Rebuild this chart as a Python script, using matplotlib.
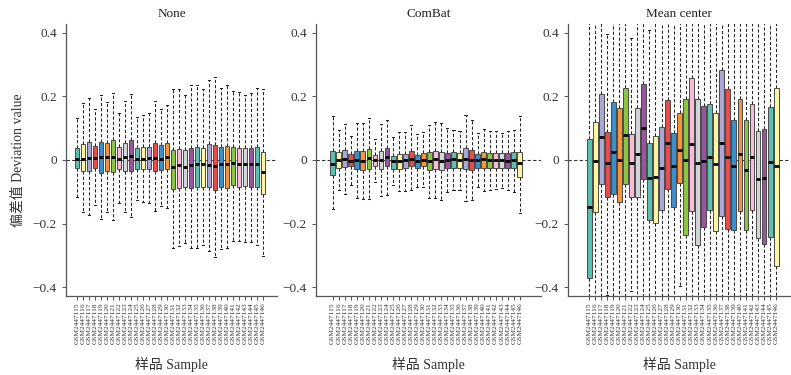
import numpy as np
import matplotlib
matplotlib.use("Agg")
from matplotlib import pyplot as plt

plt.rcParams['font.family'] = ['Liberation Serif', 'Noto Sans CJK SC', 'DejaVu Sans']

# ---- data ----
samples = ["GSM24471%02d" % i for i in range(15, 47)]
panel_titles = ["None", "ComBat", "Mean center"]

colours = ["#5cbfb2", "#fdf6a3", "#aaa6d6", "#ea4b4d", "#3d8fcb",
           "#f5953b", "#8cc541", "#f8bcd6", "#d4d5d8", "#9a559f"]

# None
none_whishi = [0.131, 0.180, 0.196, 0.159, 0.206, 0.183, 0.211, 0.149, 0.186, 0.209,
               0.134, 0.141, 0.149, 0.186, 0.162, 0.174, 0.225, 0.222, 0.206, 0.235,
               0.235, 0.225, 0.251, 0.262, 0.228, 0.235, 0.217, 0.215, 0.206, 0.212,
               0.228, 0.222]
none_q3 = [0.037, 0.049, 0.057, 0.045, 0.057, 0.052, 0.062, 0.042, 0.052, 0.063,
           0.037, 0.040, 0.042, 0.052, 0.047, 0.052, 0.033, 0.036, 0.031, 0.039,
           0.042, 0.038, 0.050, 0.047, 0.040, 0.044, 0.040, 0.037, 0.037, 0.037,
           0.040, 0.024]
none_med = [0.002, 0.002, 0.006, 0.006, 0.008, 0.008, 0.010, 0.004, 0.008, 0.013,
            0.002, 0.004, 0.006, 0.006, 0.002, 0.008, -0.021, -0.016, -0.023, -0.017,
            -0.013, -0.013, -0.015, -0.019, -0.014, -0.014, -0.010, -0.014, -0.014, -0.014,
            -0.013, -0.037]
none_q1 = [-0.026, -0.035, -0.035, -0.026, -0.040, -0.035, -0.038, -0.029, -0.035, -0.035,
           -0.029, -0.027, -0.029, -0.035, -0.031, -0.029, -0.091, -0.087, -0.086, -0.089,
           -0.086, -0.084, -0.086, -0.094, -0.086, -0.087, -0.080, -0.084, -0.082, -0.084,
           -0.084, -0.107]
none_whislo = [-0.117, -0.165, -0.172, -0.141, -0.185, -0.165, -0.188, -0.136, -0.165, -0.178,
               -0.126, -0.131, -0.134, -0.162, -0.146, -0.152, -0.277, -0.270, -0.262, -0.277,
               -0.277, -0.267, -0.285, -0.305, -0.280, -0.277, -0.256, -0.256, -0.259, -0.259,
               -0.267, -0.301]

# ComBat
combat_whishi = [0.139, 0.095, 0.114, 0.076, 0.116, 0.116, 0.131, 0.066, 0.114, 0.126,
                 0.072, 0.089, 0.087, 0.110, 0.082, 0.087, 0.111, 0.121, 0.115, 0.100,
                 0.093, 0.092, 0.142, 0.126, 0.085, 0.098, 0.092, 0.090, 0.085, 0.092,
                 0.095, 0.140]
combat_q3 = [0.027, 0.024, 0.030, 0.018, 0.027, 0.027, 0.036, 0.016, 0.029, 0.037,
             0.012, 0.019, 0.018, 0.029, 0.015, 0.022, 0.024, 0.029, 0.025, 0.022,
             0.024, 0.023, 0.038, 0.030, 0.019, 0.025, 0.023, 0.023, 0.021, 0.023,
             0.024, 0.025]
combat_med = [-0.012, 0.000, 0.004, -0.002, 0.000, -0.002, 0.005, 0.000, 0.001, 0.008,
              -0.004, -0.004, -0.001, 0.003, -0.002, 0.000, -0.002, 0.002, -0.003, 0.000,
              0.002, 0.000, 0.004, 0.000, 0.000, 0.002, 0.000, 0.000, 0.000, -0.002,
              0.000, -0.009]
combat_q1 = [-0.047, -0.024, -0.023, -0.019, -0.028, -0.030, -0.027, -0.018, -0.028, -0.020,
             -0.027, -0.027, -0.026, -0.020, -0.025, -0.018, -0.030, -0.028, -0.033, -0.026,
             -0.024, -0.024, -0.029, -0.030, -0.024, -0.025, -0.024, -0.024, -0.024, -0.026,
             -0.026, -0.053]
combat_whislo = [-0.154, -0.093, -0.107, -0.080, -0.119, -0.122, -0.122, -0.070, -0.114, -0.109,
                 -0.078, -0.099, -0.099, -0.093, -0.085, -0.085, -0.119, -0.119, -0.125, -0.101,
                 -0.093, -0.093, -0.130, -0.125, -0.085, -0.097, -0.093, -0.091, -0.088, -0.095,
                 -0.100, -0.166]

# Mean center (most whiskers run past the panel edges)
mc_whishi = [0.47, 0.47, 0.47, 0.395, 0.47, 0.47, 0.47, 0.383, 0.47, 0.47,
             0.409, 0.47, 0.47, 0.47, 0.47, 0.47, 0.47, 0.47, 0.47, 0.47,
             0.47, 0.47, 0.47, 0.47, 0.47, 0.47, 0.47, 0.47, 0.47, 0.47,
             0.47, 0.47]
mc_q3 = [0.067, 0.121, 0.207, 0.088, 0.182, 0.165, 0.228, 0.083, 0.164, 0.240,
         0.053, 0.075, 0.105, 0.190, 0.085, 0.147, 0.192, 0.257, 0.192, 0.170,
         0.176, 0.147, 0.282, 0.222, 0.126, 0.193, 0.127, 0.175, 0.090, 0.097,
         0.168, 0.228]
mc_med = [-0.148, -0.002, 0.071, -0.009, 0.026, 0.000, 0.078, -0.009, 0.020, 0.101,
          -0.058, -0.054, -0.026, 0.052, -0.020, 0.033, 0.000, 0.049, -0.009, -0.003,
          0.010, -0.012, 0.052, 0.008, -0.020, 0.020, -0.033, 0.008, -0.060, -0.058,
          -0.007, -0.018]
mc_q1 = [-0.370, -0.164, -0.074, -0.116, -0.106, -0.132, -0.074, -0.116, -0.116, -0.060,
         -0.189, -0.199, -0.157, -0.091, -0.149, -0.071, -0.235, -0.162, -0.267, -0.210,
         -0.157, -0.224, -0.176, -0.216, -0.219, -0.161, -0.221, -0.157, -0.246, -0.265,
         -0.243, -0.334]
mc_whislo = [-0.47, -0.47, -0.47, -0.424, -0.47, -0.47, -0.47, -0.412, -0.47, -0.47,
             -0.47, -0.47, -0.47, -0.47, -0.47, -0.396, -0.47, -0.47, -0.47, -0.47,
             -0.47, -0.47, -0.47, -0.47, -0.47, -0.47, -0.47, -0.47, -0.47, -0.47,
             -0.47, -0.47]

panels = [
    (none_whislo, none_q1, none_med, none_q3, none_whishi),
    (combat_whislo, combat_q1, combat_med, combat_q3, combat_whishi),
    (mc_whislo, mc_q1, mc_med, mc_q3, mc_whishi),
]

yticks = [-0.4, -0.2, 0, 0.2, 0.4]
ytick_labels = ["\u22120.4", "\u22120.2", "0", "0.2", "0.4"]

# ---- layout (pixels of the 791x375 reference) ----
W, H = 791, 375
axes_px = [(66, 211), (316, 225), (568, 222)]   # left, width
xlims = [(-0.83, 34.33), (-1.77, 35.5), (-2.5, 34.3)]
bottom_px, top_px = 296, 24

fig = plt.figure(figsize=(W / 100, H / 100), dpi=100)

spine_col = "#555555"
for k, (left, width) in enumerate(axes_px):
    ax = fig.add_axes([left / W, 1 - bottom_px / H, width / W, (bottom_px - top_px) / H])
    lo, q1, med, q3, hi = panels[k]
    stats = [dict(whislo=lo[i], q1=q1[i], med=med[i], q3=q3[i], whishi=hi[i], fliers=[])
             for i in range(len(samples))]
    pos = np.arange(1, len(samples) + 1)

    ax.axhline(0, color="#333333", lw=0.8, ls=(0, (3, 2)), zorder=1)
    bp = ax.bxp(stats, positions=pos, widths=0.8, patch_artist=True, showfliers=False,
                boxprops=dict(edgecolor="#4a4a4a", linewidth=0.7),
                medianprops=dict(color="black", linewidth=2.0, solid_capstyle="butt"),
                whiskerprops=dict(color="#222222", linewidth=0.75, linestyle=(0, (3, 2))),
                capprops=dict(color="#222222", linewidth=0.75),
                capwidths=0.35, manage_ticks=False)
    for i, patch in enumerate(bp['boxes']):
        patch.set_facecolor(colours[i % len(colours)])
        patch.set_zorder(3)
    for m in bp['medians']:
        m.set_zorder(4)

    ax.set_xlim(*xlims[k])
    ax.set_ylim(-0.428, 0.428)
    ax.set_xticks(pos)
    ax.set_xticklabels(samples, rotation=90, fontsize=5.3)
    ax.set_yticks(yticks)
    ax.set_yticklabels(ytick_labels, fontsize=9.5)
    ax.tick_params(axis='both', colors=spine_col, labelcolor="#333333", length=3, width=0.7)
    ax.tick_params(axis='x', pad=1.5)
    for s in ("top", "right"):
        ax.spines[s].set_visible(False)
    for s in ("left", "bottom"):
        ax.spines[s].set_color(spine_col)
        ax.spines[s].set_linewidth(0.9)

    ax.set_title(panel_titles[k], fontsize=9.5, pad=5, color="#222222")
    ax.set_xlabel("样品 Sample", fontsize=10, labelpad=9, color="#333333")
    if k == 0:
        ax.set_ylabel("偏差值 Deviation value", fontsize=10, labelpad=6, color="#333333")

fig.savefig("out.png", dpi=100)
